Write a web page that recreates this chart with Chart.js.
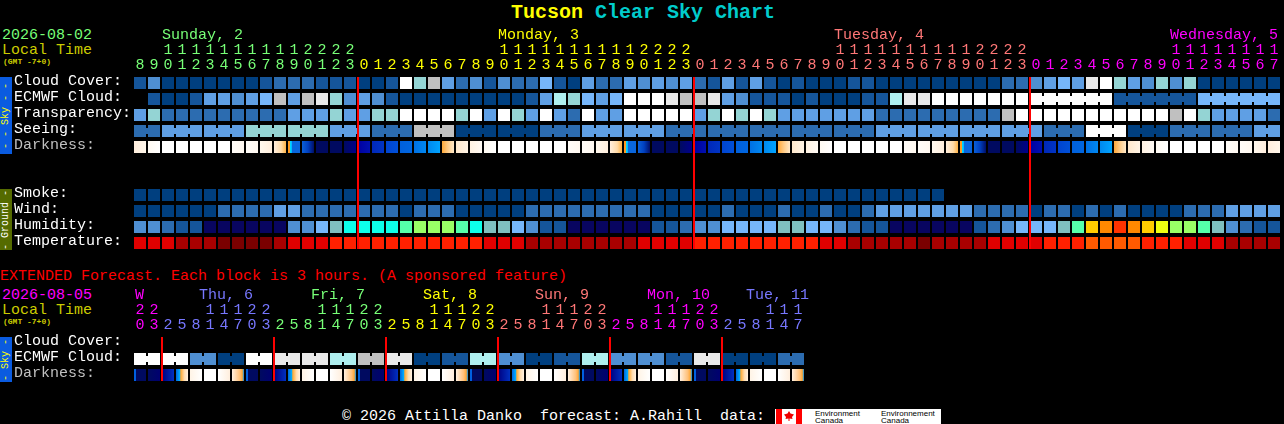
<!DOCTYPE html>
<html>
<head>
<meta charset="utf-8">
<title>Tucson Clear Sky Chart</title>
<script src="https://cdn.jsdelivr.net/npm/chart.js@4"></script>
<style>
  html, body { margin: 0; padding: 0; background: #000; width: 1284px; height: 424px; overflow: hidden; }
  canvas { position: absolute; left: 0; }
  #mainChart { top: 0; }
  #extChart { top: 256px; }
  .t { position: absolute; font: 15px/15px "Liberation Mono", monospace; white-space: pre; }
  .gmt { font: bold 8px/8px "Liberation Mono", monospace; color: #cccc00; }
  .side { position: absolute; left: 0; width: 12px; overflow: hidden; }
  .side span { position: absolute; left: 6px; top: 50%; font: 10px/12px "Liberation Mono", monospace; white-space: pre; transform: translate(-50%, -50%) rotate(-90deg); }
  #logo { position: absolute; left: 775px; top: 409px; width: 166px; height: 15px; background: #fff; overflow: hidden; }
  #logo div { position: absolute; }
  #logo .org { font: 8px/7px "Liberation Sans", sans-serif; color: #000; top: 1px; white-space: pre; }
</style>
</head>
<body>
<div class="t" style="left:511px;top:2px;font-size:20px;line-height:22px;font-weight:bold"><span style="color:#ffff00">Tucson</span> <span style="color:#00cccc">Clear Sky Chart</span></div>

<div class="t" style="left:2px;top:28px;color:#77ff77">2026-08-02</div>
<div class="t" style="left:2px;top:43px;color:#cccc00">Local Time</div>
<div class="t gmt" style="left:3px;top:58px">(GMT -7+0)</div>

<div class="t" style="left:0;top:269px;color:#ff0000">EXTENDED Forecast. Each block is 3 hours. (A sponsored feature)</div>
<div class="t" style="left:2px;top:288px;color:#ff00ff">2026-08-05</div>
<div class="t" style="left:2px;top:303px;color:#cccc00">Local Time</div>
<div class="t gmt" style="left:3px;top:318px">(GMT -7+0)</div>

<div class="side" style="top:77px;height:77px;background:#0a5be0;color:#ffff00"><span>- - - Sky - - -</span></div>
<div class="side" style="top:189px;height:61px;background:#556b00;color:#ffffff"><span>- Ground -</span></div>
<div class="side" style="top:337px;height:45px;background:#0a5be0;color:#ffff00"><span>- Sky -</span></div>

<canvas id="mainChart" width="1284" height="251"></canvas>
<canvas id="extChart" width="1284" height="127"></canvas>

<div class="t" style="left:342px;top:409px;color:#ffffff">© 2026 Attilla Danko  forecast: A.Rahill  data:</div>
<div id="logo">
  <div style="left:1px;top:0;width:6px;height:15px;background:#ff0000"></div>
  <div style="left:21px;top:0;width:6px;height:15px;background:#ff0000"></div>
  <div style="left:9px;top:2px;width:10px;height:10px;background:#ee0000;clip-path:polygon(50% 0,65% 25%,100% 35%,80% 60%,85% 80%,55% 75%,55% 100%,45% 100%,45% 75%,15% 80%,20% 60%,0 35%,35% 25%)"></div>
  <div class="org" style="left:40px">Environment
Canada</div>
  <div class="org" style="left:106px">Environnement
Canada</div>
</div>

<script>
// colour tables, rows below hold an index into one of these
var skyColors = ['#003f7f', '#15559a', '#2c6cb0', '#4f8fd2', '#5f9fe4', '#76b6fa', '#94d4d4', '#aeeeee', '#c0c0c0', '#e9e9e9', '#ffffff'];
var humidityColors = ['#080560', '#15559a', '#2c6cb0', '#4f8fd2', '#76b6fa', '#7fbfbf', '#0dffea', '#55ffaa', '#99ff66', '#eeff11', '#ffcc00', '#ff8800', '#ff3300'];
var temperatureColors = ['#7a0000', '#a80000', '#e00000', '#ff2000', '#ff5a00'];
var dayColors = ['#77ff77', '#ffff00', '#ff7777', '#ff00ff'];
var extDayColors = ['#ff00ff', '#7777ff', '#77ff77', '#ffff00', '#ff7777', '#ff00ff', '#7777ff'];

// gradient stops of the darkness cells
var darkStops = [
  [[0, '#ffffff'], [1, '#ffffff']],
  [[0, '#fffcf8'], [1, '#fff8f0']],
  [[0, '#fff8ee'], [1, '#ffeedd']],
  [[0, '#ffeedd'], [1, '#fff6ea']],
  [[0, '#ffeedd'], [0.6, '#ffdba8'], [1, '#ffb347']],
  [[0, '#ff9a20'], [0.16, '#ff9a20'], [0.17, '#00e0ff'], [0.33, '#00b0ff'], [0.34, '#0a66dd'], [1, '#0a66dd']],
  [[0, '#0a60d8'], [0.5, '#0040c0'], [1, '#000f68']],
  [[0, '#000a60'], [1, '#000a60']],
  [[0, '#000a60'], [1, '#00008b']],
  [[0, '#0000a0'], [1, '#0010b0']],
  [[0, '#0028b8'], [1, '#0034c4']],
  [[0, '#0044d0'], [1, '#0050d8']],
  [[0, '#0060dc'], [1, '#0066e0']],
  [[0, '#0070e4'], [1, '#0088f0']],
  [[0, '#0088ee'], [1, '#00a4ff']],
  [[0, '#ffa838'], [0.5, '#ffcc88'], [1, '#ffe8c8']],
  [[0, '#ffe8cc'], [1, '#fff4e6']],
  [[0, '#fff2e2'], [1, '#fffaf4']],
  [[0, '#fffaf2'], [1, '#ffffff']]
];
var extDarkStops = [
  [[0, '#0060e0'], [0.16, '#0060e0'], [0.17, '#000a60'], [1, '#000a60']],
  [[0, '#000a60'], [1, '#000070']],
  [[0, '#000080'], [1, '#0030c0']],
  [[0, '#0066dd'], [0.3, '#00aaff'], [0.4, '#ffaa33'], [0.7, '#ffdcae'], [1, '#fff2e2']],
  [[0, '#fff4e6'], [1, '#ffffff']],
  [[0, '#ffffff'], [1, '#ffffff']],
  [[0, '#ffffff'], [1, '#ffeedd']],
  [[0, '#fff0e0'], [0.65, '#ffc078'], [0.85, '#ffa838'], [1, '#0090f0']]
];

// main chart, one block per hour
var hours = ['8', '9', '10', '11', '12', '13', '14', '15', '16', '17', '18', '19', '20', '21', '22', '23',
  '0', '1', '2', '3', '4', '5', '6', '7', '8', '9', '10', '11', '12', '13', '14', '15', '16', '17', '18', '19', '20', '21', '22', '23',
  '0', '1', '2', '3', '4', '5', '6', '7', '8', '9', '10', '11', '12', '13', '14', '15', '16', '17', '18', '19', '20', '21', '22', '23',
  '0', '1', '2', '3', '4', '5', '6', '7', '8', '9', '10', '11', '12', '13', '14', '15', '16', '17'];
var rowNames = ['Cloud Cover:', 'ECMWF Cloud:', 'Transparency:', 'Seeing:', 'Darkness:', '', '', 'Smoke:', 'Wind:', 'Humidity:', 'Temperature:'];
var dayNames = ['Sunday, 2', 'Monday, 3', 'Tuesday, 4', 'Wednesday, 5'];
var dayStarts = [1.57, 25.57, 49.57, 73.57];
var midnights = [16, 40, 64];

var cloudCover = [1, 3, 0, 0, 0, 0, 0, 0, 0, 1, 2, 2, 2, 1, 1, 1, 0, 0, 1, 10, 6, 8,
  4, 2, 3, 1, 3, 2, 2, 5, 1, 0, 4, 2, 2, 4, 3, 4, 3, 4, 2, 1, 4, 1, 4, 1, 0, 1, 0, 0, 0, 1,
  1, 0, 0, 0, 0, 0, 0, 0, 0, 0, 2, 2, 3, 4, 5, 4, 9, 10, 6, 4, 3, 6, 3, 6, 0, 0, 0, 0, 0, 0];
var ecmwfCloud = [null, 1, 0, 0, 1, 4, 4, 3, 4, 5, 8, 4, 8, 9, 6, 3, 4, 3, 1, 0, 0, 0,
  0, 0, 0, 0, 0, 0, 1, 4, 7, 6, 5, 4, 5, 10, 10, 10, 9, 8, 8, 9, 4, 3, 1, 1, 1, 0, 1, 0, 0, 0,
  1, 1, 7, 9, 9, 10, 10, 10, 10, 10, 10, 10, 10, 10, 10, 10, 10, 10, 1, 1, 1, 1, 1, 1, 5, 5, 5, 5, 5, 5];
var transparency = [4, 6, 2, 2, 2, 2, 2, 2, 2, 2, 2, 4, 4, 4, 6, 4, 4, 6, 6, 10, 10, 10,
  10, 6, 10, 4, 10, 6, 4, 10, 4, 2, 10, 4, 4, 10, 10, 10, 10, 10, 4, 6, 10, 6, 10, 6, 4, 4, 4, 4, 4, 4,
  4, 2, 2, 2, 2, 2, 2, 2, 2, 2, 8, 10, 10, 10, 10, 10, 10, 10, 10, 10, 10, 10, 8, 10, 6, 4, 4, 4, 4, 2];
var seeing = [2, 2, 4, 4, 4, 4, 4, 4, 6, 6, 6, 6, 6, 6, 4, 4, 4, 2, 2, 2, 8, 8,
  8, 0, 0, 0, 0, 0, 0, 2, 2, 2, 4, 4, 4, 4, 4, 4, 2, 2, 2, 2, 2, 2, 2, 2, 2, 2, 2, 2, 2, 2,
  2, 4, 4, 4, 4, 4, 4, 4, 4, 4, 4, 4, 4, 2, 2, 2, 10, 10, 10, 0, 0, 0, 2, 2, 2, 2, 2, 2, 4, 4];
var darkness = [3, 18, 0, 0, 0, 0, 0, 1, 1, 2, 4, 5, 6, 7, 7, 8, 9, 10, 11, 12, 13, 14,
  15, 16, 17, 18, 0, 0, 0, 0, 0, 1, 1, 2, 4, 5, 6, 7, 7, 8, 9, 10, 11, 12, 13, 14, 15, 16, 17, 18, 0, 0,
  0, 0, 0, 1, 1, 2, 4, 5, 6, 7, 7, 8, 9, 10, 11, 12, 13, 14, 15, 16, 17, 18, 0, 0, 0, 0, 1, 1, 2, 3];
var smoke = [0, 0, 0, 0, 0, 0, 0, 0, 0, 0, 0, 0, 0, 0, 0, 0, 0, 0, 0, 0, 0, 0,
  0, 0, 0, 0, 0, 0, 0, 0, 0, 0, 0, 0, 0, 0, 0, 0, 0, 0, 0, 0, 0, 0, 0, 0, 0, 0, 0, 0, 0, 0,
  0, 0, 0, 0, 0, 0];
var wind = [0, 0, 0, 0, 0, 0, 2, 2, 2, 2, 4, 4, 2, 2, 2, 2, 2, 2, 2, 0, 2, 2,
  2, 0, 0, 0, 0, 0, 2, 2, 2, 2, 2, 2, 2, 2, 2, 0, 0, 0, 0, 0, 2, 0, 0, 0, 2, 0, 0, 2, 0, 0,
  2, 4, 4, 4, 4, 4, 4, 4, 2, 2, 2, 2, 0, 2, 2, 0, 2, 0, 2, 0, 0, 0, 0, 2, 2, 2, 4, 4, 4, 4];
var humidity = [3, 3, 2, 1, 1, 0, 0, 0, 0, 0, 0, 3, 3, 4, 5, 6, 6, 6, 6, 7, 8, 8,
  8, 7, 6, 5, 5, 4, 3, 1, 1, 0, 0, 0, 0, 0, 0, 1, 1, 2, 3, 3, 4, 4, 4, 4, 5, 5, 4, 4, 3, 2,
  1, 1, 0, 0, 0, 0, 0, 0, 1, 2, 3, 4, 4, 4, 5, 7, 10, 11, 12, 11, 10, 9, 8, 8, 7, 5, 3, 2, 1, 1];
var temperature = [2, 2, 2, 1, 1, 1, 0, 0, 0, 0, 1, 2, 2, 2, 3, 3, 3, 3, 3, 3, 3, 3,
  3, 3, 3, 2, 2, 2, 1, 1, 1, 1, 1, 1, 1, 1, 2, 2, 2, 2, 3, 3, 3, 3, 3, 3, 3, 3, 3, 2, 2, 1,
  1, 1, 1, 1, 0, 1, 1, 1, 1, 2, 2, 2, 2, 3, 3, 3, 4, 4, 4, 4, 3, 3, 3, 2, 2, 2, 1, 1, 1, 1];

// forecast blocks that belong together
var seeingSpans = [[0, 1], [2, 4], [5, 7], [8, 10], [11, 13], [14, 16], [17, 19], [20, 22], [23, 25], [26, 28], [29, 31], [32, 34], [35, 37], [38, 40],
  [41, 43], [44, 46], [47, 49], [50, 52], [53, 55], [56, 58], [59, 61], [62, 64], [65, 67], [68, 70], [71, 73], [74, 76], [77, 79], [80, 81]];
var ecmwfSpans = [[64, 69], [70, 75], [76, 81]];

// extended chart, one block per 3 hours
var extHours = ['20', '23', '2', '5', '8', '11', '14', '17', '20', '23', '2', '5', '8', '11', '14', '17', '20', '23', '2', '5', '8', '11', '14', '17',
  '20', '23', '2', '5', '8', '11', '14', '17', '20', '23', '2', '5', '8', '11', '14', '17', '20', '23', '2', '5', '8', '11', '14', '17'];
var extRowNames = ['Cloud Cover:', 'ECMWF Cloud:', 'Darkness:'];
var extDayNames = ['W', 'Thu, 6', 'Fri, 7', 'Sat, 8', 'Sun, 9', 'Mon, 10', 'Tue, 11'];
var extDayStarts = [-0.36, 4.21, 12.21, 20.21, 28.21, 36.21, 43.29];
var extMidnights = [2, 10, 18, 26, 34, 42];
var extEcmwf = [10, 10, 10, 10, 3, 3, 0, 0, 10, 10, 9, 9, 9, 9, 7, 7, 8, 8, 9, 9, 0, 0, 1, 1,
  7, 7, 3, 3, 0, 0, 1, 1, 7, 7, 3, 3, 3, 3, 1, 1, 9, 9, 0, 0, 0, 0, 2, 2];
var extDarkness = [0, 1, 2, 3, 4, 5, 6, 7, 0, 1, 2, 3, 4, 5, 6, 7, 0, 1, 2, 3, 4, 5, 6, 7,
  0, 1, 2, 3, 4, 5, 6, 7, 0, 1, 2, 3, 4, 5, 6, 7, 0, 1, 2, 3, 4, 5, 6, 7];
var extSpans = [[0, 1], [2, 3], [4, 5], [6, 7], [8, 9], [10, 11], [12, 13], [14, 15], [16, 17], [18, 19], [20, 21], [22, 23],
  [24, 25], [26, 27], [28, 29], [30, 31], [32, 33], [34, 35], [36, 37], [38, 39], [40, 41], [42, 43], [44, 45], [46, 47]];

var FONT = 'Liberation Mono';

// a row of blocks in the sky/ground table
function flatRow(row, levels, palette, spans) {
  return {
    data: levels.map(function(v) { return v === null ? null : [row - 0.375, row + 0.375]; }),
    backgroundColor: function(ctx) { return palette[levels[ctx.dataIndex]]; },
    row: row, levels: levels, palette: palette, spans: spans
  };
}

// darkness cells fade inside the block, so each one gets its own gradient
function gradientRow(row, levels, stops) {
  return {
    data: levels.map(function() { return [row - 0.375, row + 0.375]; }),
    backgroundColor: function(ctx) {
      if (ctx.dataIndex === undefined) return '#000';
      var x = ctx.chart.scales.x.getPixelForValue(ctx.dataIndex);
      if (!isFinite(x)) return '#000';
      var g = ctx.chart.ctx.createLinearGradient(x - 6, 0, x + 6, 0);
      stops[levels[ctx.dataIndex]].forEach(function(s) { g.addColorStop(s[0], s[1]); });
      return g;
    }
  };
}

function makeChart(id, cfg) {
  var day = 0;
  var tickColors = cfg.hours.map(function(h, i) {
    if (i > 0 && +h < +cfg.hours[i - 1]) day++;
    return cfg.dayColors[day];
  });
  var overlay = {
    id: 'overlay',
    beforeDatasetsDraw: function(chart) {
      // narrow bridges between blocks of one forecast step
      var c = chart.ctx, xs = chart.scales.x, ys = chart.scales.y;
      cfg.rows.forEach(function(r) {
        (r.spans || []).forEach(function(span) {
          for (var i = span[0]; i < span[1]; i++) {
            c.fillStyle = r.palette[r.levels[i]];
            c.fillRect(xs.getPixelForValue(i) + 6, ys.getPixelForValue(r.row) - 3, 2, 6);
          }
        });
      });
    },
    afterDatasetsDraw: function(chart) {
      var c = chart.ctx, xs = chart.scales.x, area = chart.chartArea;
      c.fillStyle = '#ff0000';
      cfg.midnights.forEach(function(i) {
        c.fillRect(xs.getPixelForValue(i) - 7, area.top + 2, 2, area.bottom - area.top - 4);
      });
      c.font = '15px "' + FONT + '"';
      c.textAlign = 'left';
      c.textBaseline = 'middle';
      cfg.dayNames.forEach(function(name, i) {
        c.fillStyle = cfg.dayColors[i];
        c.fillText(name, xs.getPixelForValue(cfg.dayStarts[i]), area.top - 40);
      });
    }
  };
  return new Chart(document.getElementById(id), {
    type: 'bar',
    data: { labels: cfg.hours, datasets: cfg.rows },
    plugins: [overlay],
    options: {
      responsive: false,
      animation: false,
      devicePixelRatio: 1,
      layout: { padding: { left: 14, right: cfg.right, top: 0, bottom: 0 } },
      datasets: { bar: { grouped: false, barThickness: 12, inflateAmount: 0, borderWidth: 0 } },
      plugins: { legend: { display: false }, tooltip: { enabled: false }, title: { display: false } },
      scales: {
        x: {
          position: 'top',
          grid: { display: false, drawTicks: false },
          border: { display: false },
          afterFit: function(s) {
            s.height = cfg.axisTop;
            s.paddingLeft = s.paddingRight = 0;
          },
          ticks: {
            autoSkip: false, maxRotation: 0, minRotation: 0, padding: 2,
            font: { family: FONT, size: 15, lineHeight: '15px' },
            color: function(ctx) { return tickColors[ctx.index]; },
            callback: function(v) {
              var s = this.getLabelForValue(v);
              return s.length > 1 ? [s[0], s[1]] : ['', s];
            }
          }
        },
        y: {
          type: 'linear',
          reverse: true,
          min: -0.5,
          max: cfg.rowNames.length - 0.5,
          grid: { display: false, drawTicks: false },
          border: { display: false },
          afterFit: function(s) {
            s.width = 119;
            s.paddingTop = s.paddingBottom = 0;
          },
          afterBuildTicks: function(s) {
            s.ticks = cfg.rowNames.map(function(n, i) { return { value: i }; });
          },
          ticks: {
            autoSkip: false, crossAlign: 'far', padding: 0, labelOffset: -2,
            font: { family: FONT, size: 15 },
            color: function(ctx) { return cfg.rowNames[ctx.index] === 'Darkness:' ? '#c0c0c0' : '#ffffff'; },
            callback: function(v) { return cfg.rowNames[v]; }
          }
        }
      }
    }
  });
}

makeChart('mainChart', {
  hours: hours, rowNames: rowNames, dayNames: dayNames, dayStarts: dayStarts, dayColors: dayColors,
  midnights: midnights, right: 3, axisTop: 75,
  rows: [
    flatRow(0, cloudCover, skyColors),
    flatRow(1, ecmwfCloud, skyColors, ecmwfSpans),
    flatRow(2, transparency, skyColors),
    flatRow(3, seeing, skyColors, seeingSpans),
    gradientRow(4, darkness, darkStops),
    flatRow(7, smoke, skyColors),
    flatRow(8, wind, skyColors),
    flatRow(9, humidity, humidityColors),
    flatRow(10, temperature, temperatureColors)
  ]
});

makeChart('extChart', {
  hours: extHours, rowNames: extRowNames, dayNames: extDayNames, dayStarts: extDayStarts, dayColors: extDayColors,
  midnights: extMidnights, right: 479, axisTop: 79,
  rows: [
    flatRow(1, extEcmwf, skyColors, extSpans),
    gradientRow(2, extDarkness, extDarkStops)
  ]
});
</script>
</body>
</html>
